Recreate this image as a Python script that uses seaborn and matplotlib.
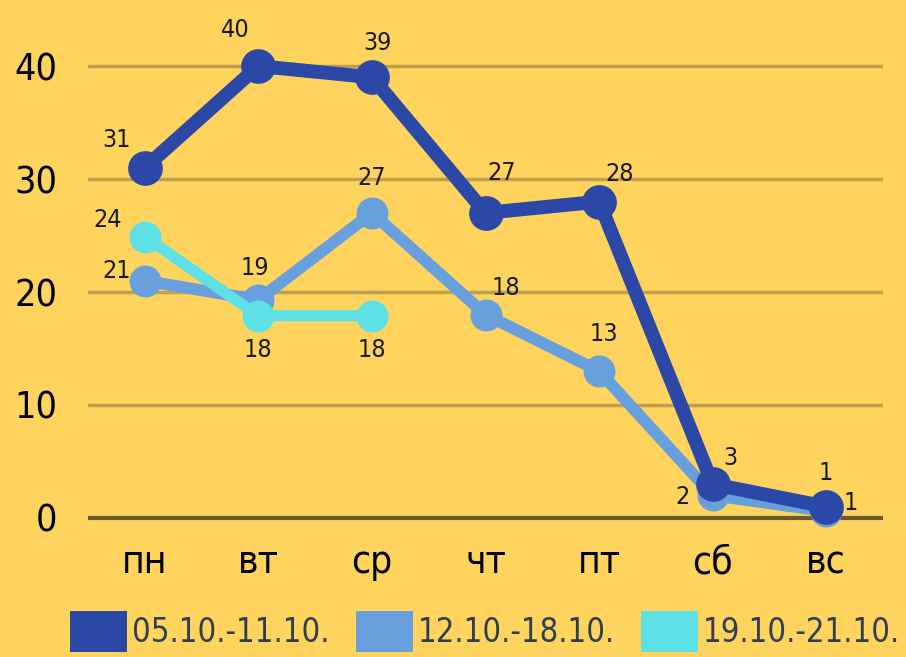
import matplotlib
matplotlib.use("Agg")
import matplotlib.pyplot as plt
import seaborn as sns
import pandas as pd
from matplotlib.patches import Patch

days = ["пн", "вт", "ср", "чт", "пт", "сб", "вс"]
series_names = ["05.10.-11.10.", "12.10.-18.10.", "19.10.-21.10."]
week1 = [31, 40, 39, 27, 28, 3, 1]
week2 = [21, 19.3, 27, 18, 13, 2, 0.6]
week3 = [24.9, 17.9, 17.9]
labels1 = ["31", "40", "39", "27", "28", "3", "1"]
labels2 = ["21", "19", "27", "18", "13", "2", "1"]
labels3 = ["24", "18", "18"]

colors = ["#2B48A6", "#68A0DE", "#5DE0E6"]
bg = "#FFD45E"

sns.set_theme(style="white")
plt.rcParams["font.family"] = ["DejaVu Sans"]
plt.rcParams["font.stretch"] = "condensed"

fig = plt.figure(figsize=(9.06, 6.57), dpi=100, facecolor=bg)
ax = fig.add_axes([88/906, 0.1944, (883-88)/906, 0.9855-0.1944])
ax.set_facecolor(bg)

rows = []
for name, vals in zip(series_names, [week1, week2, week3]):
    for d, v in zip(days, vals):
        rows.append({"day": d, "value": v, "series": name})
df = pd.DataFrame(rows)

lws = [10, 8.5, 8]
mss = [25, 23, 23]
order = [1, 2, 0]
for i in order:
    name = series_names[i]
    sub = df[df["series"] == name]
    sns.lineplot(data=sub, x="day", y="value", ax=ax, color=colors[i], lw=lws[i],
                 marker="o", markersize=mss[i], markeredgewidth=0, sort=False,
                 legend=False, zorder=3 + (i == 0) * 2, clip_on=False)

ax.set_xlim(-0.5, 6.5)
ax.set_ylim(-1, 45)
ax.set_yticks([0, 10, 20, 30, 40])
for y in [10, 20, 30, 40]:
    ax.axhline(y, color="#C0A04C", lw=2.5, zorder=1)
ax.axhline(0, color="#6B5A28", lw=3, zorder=2)

for s in ax.spines.values():
    s.set_visible(False)
ax.tick_params(axis="both", length=0)
ax.tick_params(axis="y", labelsize=27, pad=22)
ax.tick_params(axis="x", labelsize=28, pad=10)
for t in ax.get_yticklabels() + ax.get_xticklabels():
    t.set_color("black")
    t.set_fontstretch("condensed")
ax.set_xlabel("")
ax.set_ylabel("")

off1 = [(-28, 28), (-23, 36), (6, 34), (16, 40), (21, 28), (18, 26), (0, 34)]
off2 = [(-28, 10), (-3, 32), (0, 35), (20, 27), (5, 37), (-30, -2), (25, 8)]
off3 = [(-37, 17), (0, -34), (0, -34)]
for vals, labs, offs in [(week1, labels1, off1), (week2, labels2, off2), (week3, labels3, off3)]:
    for x, (v, lab, o) in enumerate(zip(vals, labs, offs)):
        ax.annotate(lab, (x, v), xytext=(o[0] * 0.72, o[1] * 0.72), textcoords="offset points",
                    ha="center", va="center", fontsize=18, color="#1a1a1a", zorder=10,
                    fontstretch="condensed")

handles = [Patch(facecolor=c, edgecolor="none") for c in colors]
leg = fig.legend(handles, series_names, loc="lower left", bbox_to_anchor=(70/906, 0.008),
                 ncol=3, frameon=False, fontsize=23.5, handlelength=1.75, handleheight=1.55,
                 handletextpad=0.15, columnspacing=0.8, borderaxespad=0, borderpad=0)
for t in leg.get_texts():
    t.set_color("#2E3F52")
    t.set_fontstretch("condensed")

fig.savefig("out.png", dpi=100, facecolor=bg)
